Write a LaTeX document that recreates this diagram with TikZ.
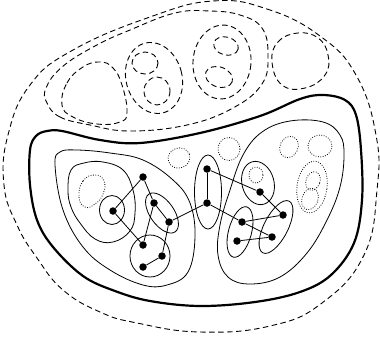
\documentclass[tikz,border=0pt]{standalone}
\usepackage{tikz}
\tikzset{
  ws vertex/.style={
    circle,
    fill=black,
    inner sep=0pt,
    minimum size=7.5pt,
  },
  ws edge/.style={line width=0.8pt},
  ws part/.style={line width=0.8pt},
  ws whole/.style={line width=2.2pt},
  ws ghost/.style={line width=0.9pt, dash pattern=on 5.5pt off 3.5pt},
  ws faint/.style={line width=0.8pt, dash pattern=on 0.8pt off 1.6pt},
}

\begin{document}
\begin{tikzpicture}[x=1pt,y=-1pt]
  \useasboundingbox (0,0) rectangle (380,340);

  % outer dashed region and the dashed pieces at the top
  \draw[ws ghost] plot[smooth cycle,tension=0.75] coordinates {
    (213,1) (267,9) (320,36) (356,75) (376,135) (377,190) (364,255)
    (322,303) (270,326) (200,332) (137,323) (100,312) (63,290)
    (37,258) (17,225) (4,185) (8,135) (30,85) (73,50) (150,17)};
  \draw[ws ghost] plot[smooth cycle,tension=0.7] coordinates {
    (47,103) (60,117) (90,125) (130,131) (187,125) (233,108) (262,84)
    (268,55) (262,28) (240,15) (210,11) (175,13) (130,30) (95,46)
    (62,67) (46,88)};
  \draw[ws ghost] plot[smooth cycle,tension=0.75] coordinates {
    (62,105) (67,83) (83,67) (100,62) (113,68) (122,85) (127,112)
    (120,122) (97,124) (73,117)};
  \draw[ws ghost,rotate around={15:(154,78)}] (154,78) ellipse (28 and 36);
  \draw[ws ghost] (145,63) ellipse (13 and 11);
  \draw[ws ghost] (157,91) ellipse (13 and 14);
  \draw[ws ghost,rotate around={-5:(222,62)}] (222,62) ellipse (29 and 37);
  \draw[ws ghost,rotate around={-15:(226,46)}] (226,46) ellipse (12.5 and 9);
  \draw[ws ghost,rotate around={-20:(219,77)}] (219,77) ellipse (14 and 10);
  \draw[ws ghost] plot[smooth cycle,tension=0.75] coordinates {
    (272,62) (278,42) (298,33) (318,38) (328,55) (325,75) (305,88) (282,85)};

  % solid region
  \draw[ws whole] plot[smooth cycle,tension=0.6] coordinates {
    (30,150) (36,136) (47,131) (62,131) (100,140) (140,143) (200,133)
    (260,116) (300,99) (323,95) (345,100) (356,115) (361,150) (362,200)
    (354,243) (331,275) (300,292) (255,302) (200,306) (150,301)
    (115,291) (83,276) (53,247) (37,220) (30,185)};

  % left part
  \draw[ws part] plot[smooth cycle,tension=0.65] coordinates {
    (55,165) (60,152) (77,150) (110,153) (143,160) (173,180) (190,203)
    (195,237) (188,272) (167,285) (143,285) (110,270) (83,247) (63,210)};
  \draw[ws part] plot[smooth cycle,tension=0.7] coordinates {
    (68,190) (71,170) (84,163) (103,162) (123,170) (133,190) (135,213)
    (130,231) (113,242) (95,239) (80,223) (71,207)};
  \draw[ws part] (112,210) ellipse (12.5 and 14.5);
  \draw[ws part,rotate around={-55:(162,213)}] (162,213) ellipse (23 and 12);
  \draw[ws part] (150,256) ellipse (20 and 21);
  \draw[ws faint] plot[smooth cycle,tension=0.8] coordinates {
    (79,197) (83,181) (95,175) (104,181) (103,194) (95,204) (85,207)};
  \draw[ws faint,rotate around={20:(179,158)}] (179,158) ellipse (11 and 10);

  % middle part
  \draw[ws part] (208,192) ellipse (13.5 and 37);
  \draw[ws faint] (229,149) ellipse (11 and 11.5);

  % right part
  \draw[ws part] plot[smooth cycle,tension=0.65] coordinates {
    (218,255) (220,225) (230,190) (243,155) (262,132) (290,121) (323,122)
    (340,135) (344,155) (340,187) (327,220) (307,253) (280,277) (250,284)
    (228,277)};
  \draw[ws part,rotate around={15:(258,183)}] (258,183) ellipse (16 and 22);
  \draw[ws faint] (256,175) ellipse (7 and 8);
  \draw[ws part,rotate around={63:(276,227)}] (276,227) ellipse (29 and 12);
  \draw[ws part,rotate around={75:(240,232)}] (240,232) ellipse (26 and 11.5);
  \draw[ws faint,rotate around={-25:(289,147)}] (289,147) ellipse (9 and 11);
  \draw[ws faint] (320,146) ellipse (12 and 11);
  \draw[ws faint,rotate around={-8:(312,187)}] (312,187) ellipse (15 and 26);
  \draw[ws faint,rotate around={-20:(313,181)}] (313,181) ellipse (7 and 9.5);
  \draw[ws faint,rotate around={-20:(310,199)}] (310,199) ellipse (8 and 11);

  % vertices
  \node[ws vertex] (ta) at (143,177) {};
  \node[ws vertex] (la) at (113,211) {};
  \node[ws vertex] (lb) at (154,203) {};
  \node[ws vertex] (lc) at (169,222) {};
  \node[ws vertex] (ld) at (143,245) {};
  \node[ws vertex] (le) at (162,256) {};
  \node[ws vertex] (lf) at (143,267) {};
  \node[ws vertex] (ma) at (207,169) {};
  \node[ws vertex] (mb) at (207,203) {};
  \node[ws vertex] (ra) at (260,192) {};
  \node[ws vertex] (rb) at (283,215) {};
  \node[ws vertex] (rc) at (242,222) {};
  \node[ws vertex] (rd) at (272,237) {};
  \node[ws vertex] (re) at (237,241) {};

  % edges
  \draw[ws edge] (ta) -- (la);
  \draw[ws edge] (ta) -- (lb);
  \draw[ws edge] (lb) -- (lc);
  \draw[ws edge] (lb) -- (ld);
  \draw[ws edge] (la) -- (ld);
  \draw[ws edge] (lc) -- (le);
  \draw[ws edge] (le) -- (lf);
  \draw[ws edge] (lc) -- (mb);
  \draw[ws edge] (ma) -- (mb);
  \draw[ws edge] (ma) -- (ra);
  \draw[ws edge] (ra) -- (rb);
  \draw[ws edge] (mb) -- (rc);
  \draw[ws edge] (rc) -- (rb);
  \draw[ws edge] (rc) -- (rd);
  \draw[ws edge] (rd) -- (re);
\end{tikzpicture}
\end{document}
